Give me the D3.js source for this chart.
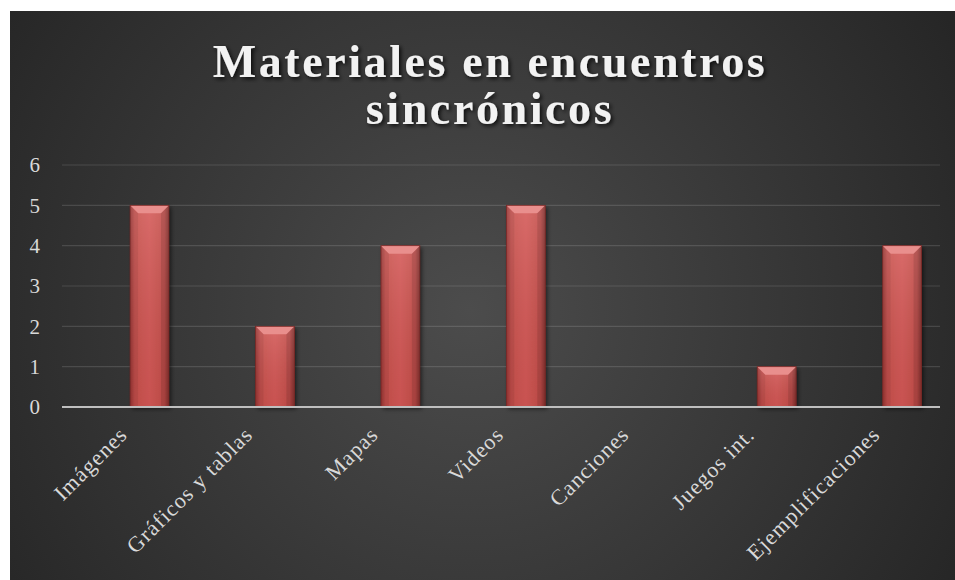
<!DOCTYPE html>
<html>
<head>
<meta charset="utf-8">
<script src="https://cdn.jsdelivr.net/npm/d3@7/dist/d3.min.js"></script>
<style>
html,body{margin:0;padding:0;background:#fff;}
svg{display:block;}
</style>
</head>
<body>
<svg id="chart" width="955" height="580"></svg>
<script>
const categories = ["Imágenes","Gráficos y tablas","Mapas","Videos","Canciones","Juegos int.","Ejemplificaciones"];
const values = [5,2,4,5,0,1,4];
const yTicks = [0,1,2,3,4,5,6];
const titleLines = ["Materiales en encuentros","sincrónicos"];

const svg = d3.select("#chart");
const defs = svg.append("defs");

const bg = defs.append("radialGradient").attr("id","bg")
  .attr("gradientUnits","userSpaceOnUse")
  .attr("cx",470).attr("cy",310).attr("r",620);
bg.append("stop").attr("offset","0%").attr("stop-color","#4c4c4c");
bg.append("stop").attr("offset","100%").attr("stop-color","#222222");

const barG = defs.append("linearGradient").attr("id","barg").attr("x1","0").attr("x2","1").attr("y1","0").attr("y2","0");
[["0%","#9e3634"],["12%","#c9504d"],["50%","#d45855"],["88%","#c44d4a"],["100%","#8e3230"]].forEach(s=>barG.append("stop").attr("offset",s[0]).attr("stop-color",s[1]));
const barV = defs.append("linearGradient").attr("id","barv").attr("x1","0").attr("x2","0").attr("y1","0").attr("y2","1");
barV.append("stop").attr("offset","0%").attr("stop-color","#ffffff").attr("stop-opacity",0.12);
barV.append("stop").attr("offset","100%").attr("stop-color","#000000").attr("stop-opacity",0.05);

const sh = defs.append("filter").attr("id","shadow").attr("x","-30%").attr("y","-30%").attr("width","160%").attr("height","160%");
sh.append("feDropShadow").attr("dx",2).attr("dy",2).attr("stdDeviation",2).attr("flood-color","#000").attr("flood-opacity",0.55);
const tsh = defs.append("filter").attr("id","tshadow").attr("x","-10%").attr("y","-30%").attr("width","120%").attr("height","160%");
tsh.append("feDropShadow").attr("dx",2).attr("dy",2).attr("stdDeviation",2).attr("flood-color","#000").attr("flood-opacity",0.8);

svg.append("rect").attr("x",10).attr("y",11).attr("width",945).attr("height",569).attr("fill","url(#bg)");

const plot = {left:62,right:940,top:165,bottom:407};
const x = d3.scaleBand().domain(categories).range([plot.left,plot.right]).paddingInner(0).paddingOuter(0);
const y = d3.scaleLinear().domain([0,6]).range([plot.bottom,plot.top]);

// gridlines
svg.append("g").selectAll("line").data(yTicks.filter(d=>d>0)).join("line")
  .attr("x1",plot.left).attr("x2",plot.right)
  .attr("y1",d=>y(d)).attr("y2",d=>y(d))
  .attr("stroke","#ffffff").attr("stroke-opacity",0.13).attr("stroke-width",1.2);

// y labels
svg.append("g").selectAll("text").data(yTicks).join("text")
  .attr("x",40).attr("y",d=>y(d)).attr("dy","0.35em")
  .attr("text-anchor","end")
  .attr("font-family","'Liberation Serif', 'DejaVu Serif', serif")
  .attr("font-size",21).attr("fill","#d9d9d9")
  .text(d=>d);

// bars
const bw = x.bandwidth()*0.31;
const bOff = x.bandwidth()*0.543;
const bars = svg.append("g").selectAll("g").data(categories.map((c,i)=>({c,v:values[i]})).filter(d=>d.v>0)).join("g");
bars.append("rect")
  .attr("x",d=>x(d.c)+bOff).attr("y",d=>y(d.v))
  .attr("width",bw).attr("height",d=>y(0)-y(d.v))
  .attr("fill","url(#barg)").attr("filter","url(#shadow)");
bars.append("rect")
  .attr("x",d=>x(d.c)+bOff).attr("y",d=>y(d.v))
  .attr("width",bw).attr("height",d=>y(0)-y(d.v))
  .attr("fill","url(#barv)");
bars.append("path")
  .attr("d",d=>{const x0=x(d.c)+bOff,x1=x0+bw,t=y(d.v),b=8;
    return `M${x0},${t}L${x1},${t}L${x1-b},${t+b}L${x0+b},${t+b}Z`;})
  .attr("fill","#e98f8d");
bars.append("path")
  .attr("d",d=>{const x0=x(d.c)+bOff,t=y(d.v),b=8;
    return `M${x0},${t}L${x0+b},${t+b}L${x0+b},${y(0)}L${x0},${y(0)}Z`;})
  .attr("fill","#000").attr("fill-opacity",0.06);
bars.append("path")
  .attr("d",d=>{const x1=x(d.c)+bOff+bw,t=y(d.v),b=8;
    return `M${x1},${t}L${x1-b},${t+b}L${x1-b},${y(0)}L${x1},${y(0)}Z`;})
  .attr("fill","#000").attr("fill-opacity",0.1);
bars.append("rect")
  .attr("x",d=>x(d.c)+bOff).attr("y",d=>y(d.v))
  .attr("width",bw).attr("height",d=>y(0)-y(d.v))
  .attr("fill","none").attr("stroke","#7a2826").attr("stroke-width",0.8);

// x axis line
svg.append("line").attr("x1",plot.left).attr("x2",plot.right)
  .attr("y1",y(0)).attr("y2",y(0))
  .attr("stroke","#bfbfbf").attr("stroke-width",2.2);

// x labels
svg.append("g").selectAll("text").data(categories).join("text")
  .attr("transform",d=>`translate(${x(d)+x.bandwidth()/2+4},${y(0)+29}) rotate(-45)`)
  .attr("text-anchor","end")
  .attr("font-family","'Liberation Serif', 'DejaVu Serif', serif")
  .attr("font-size",22).attr("letter-spacing",1.1).attr("fill","#d9d9d9")
  .text(d=>d);

// title
svg.append("text")
  .attr("text-anchor","middle")
  .attr("font-family","'Liberation Serif', 'DejaVu Serif', serif")
  .attr("font-weight","bold").attr("font-size",46)
  .attr("letter-spacing",2.6)
  .attr("fill","#f2f2f2").attr("filter","url(#tshadow)")
  .selectAll("tspan").data(titleLines).join("tspan")
  .attr("x",490).attr("y",(d,i)=>77+i*47)
  .text(d=>d);
</script>
</body>
</html>
